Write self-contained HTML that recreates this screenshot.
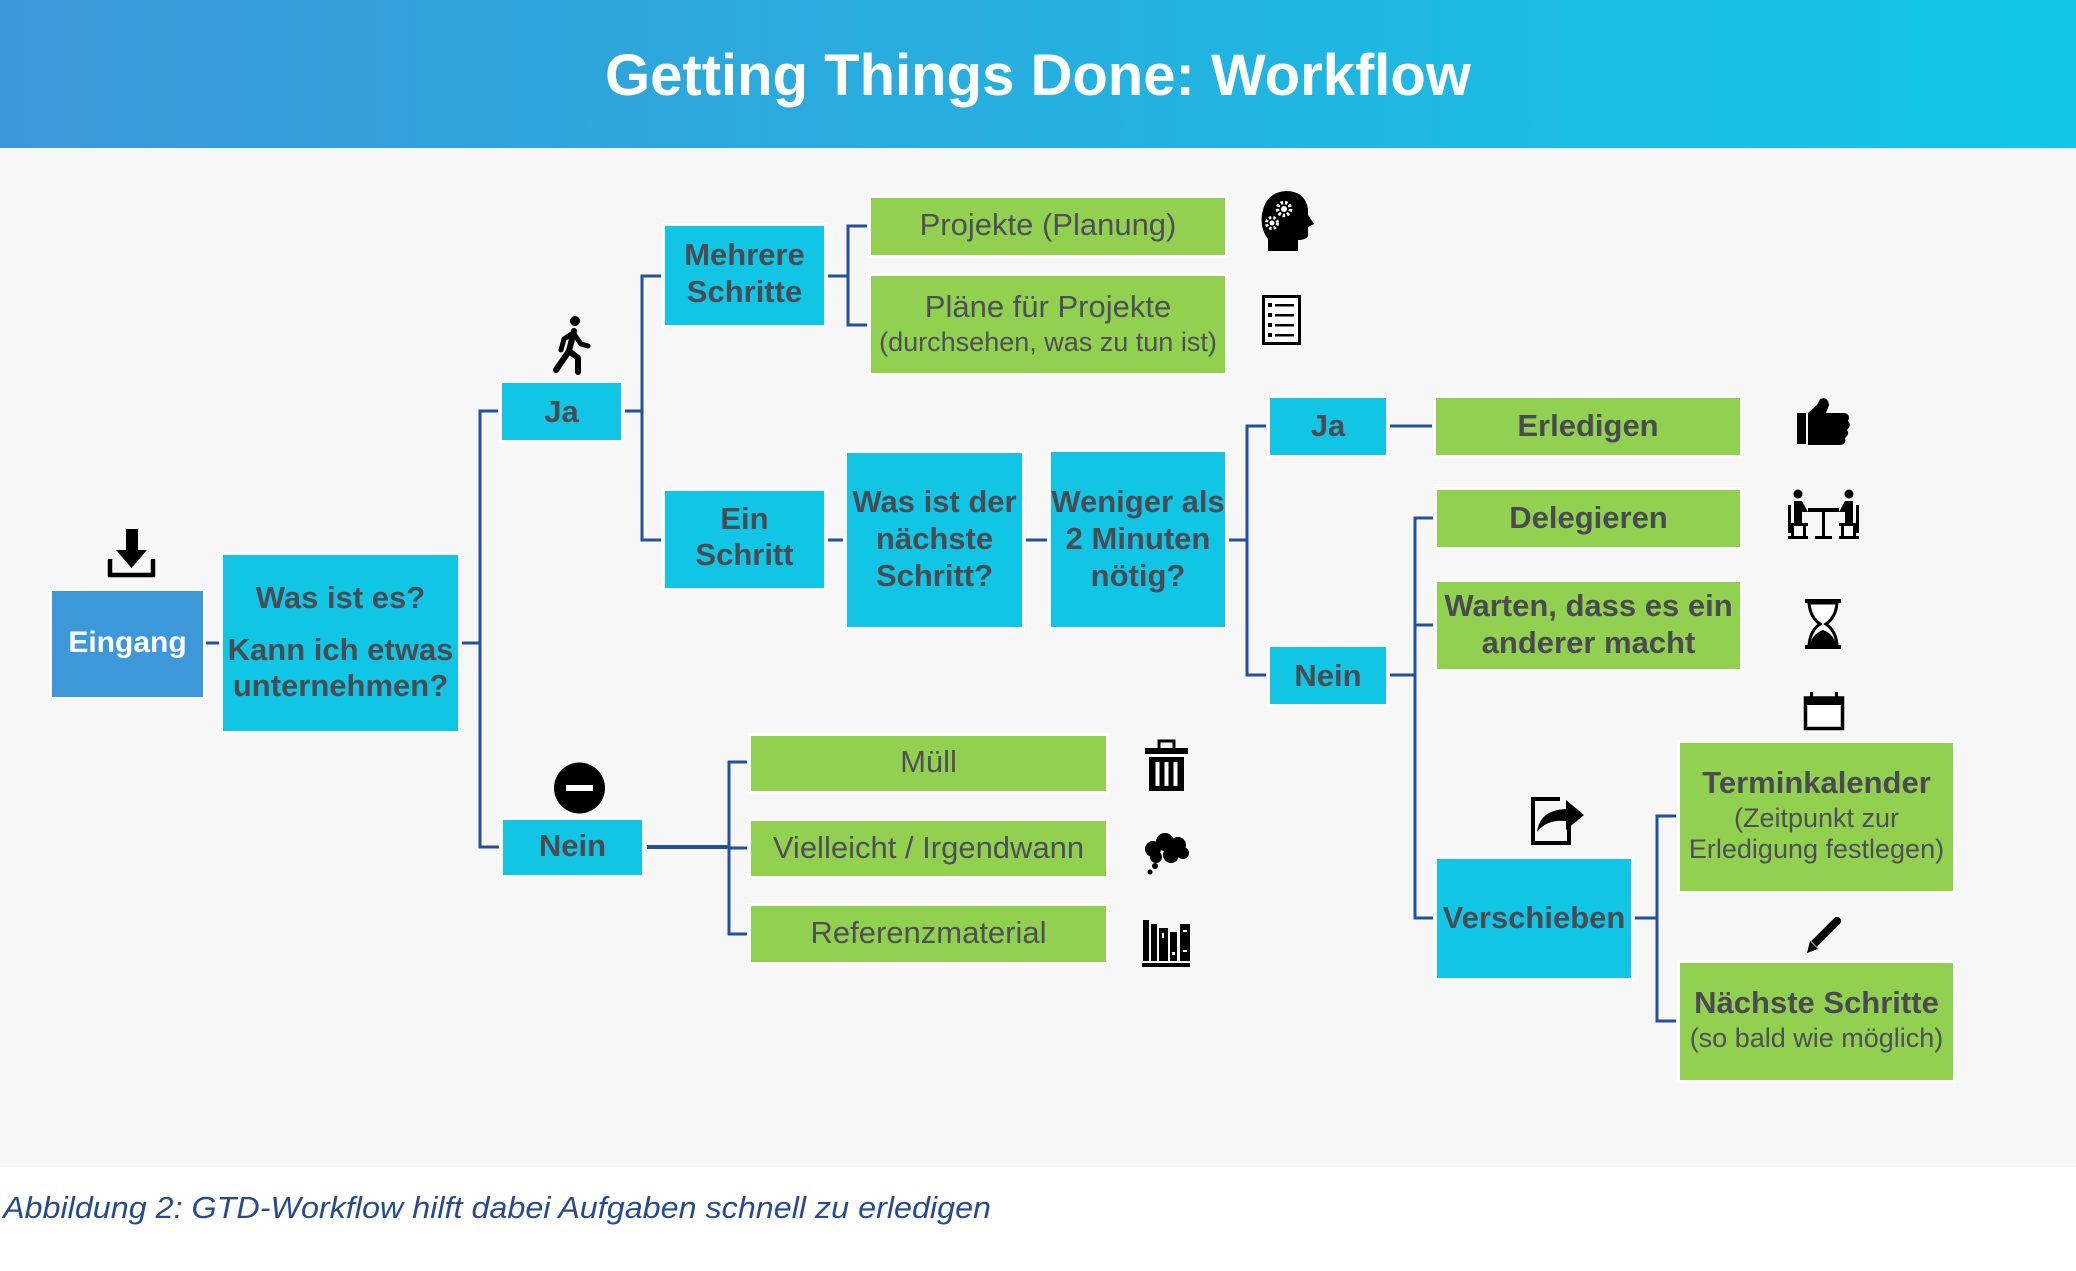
<!DOCTYPE html>
<html><head><meta charset="utf-8"><style>
html,body{margin:0;padding:0;background:#fff;}
svg{display:block;}
text{font-family:"Liberation Sans",Arial,sans-serif;}
.b{font-weight:bold;font-size:31px;fill:#4a4a52;text-anchor:middle;}
.r{font-size:31px;fill:#4f4f57;text-anchor:middle;}
.s{font-size:27px;fill:#4f4f57;text-anchor:middle;}
.ln{stroke:#22509b;stroke-width:3;fill:none;}
</style></head><body>
<svg width="2076" height="1271" viewBox="0 0 2076 1271" xmlns="http://www.w3.org/2000/svg">
<defs>
<linearGradient id="hg" x1="0" y1="0" x2="1" y2="0">
<stop offset="0" stop-color="#3b98d8"/>
<stop offset="1" stop-color="#10c7e6"/>
</linearGradient>
</defs>
<rect x="0" y="0" width="2076" height="1271" fill="#fff"/>
<rect x="0" y="0" width="2076" height="148" fill="url(#hg)"/>
<rect x="0" y="148" width="2076" height="1019" fill="#f7f7f7"/>
<text x="1038" y="95" text-anchor="middle" font-weight="bold" font-size="58" fill="#fff" textLength="866" lengthAdjust="spacingAndGlyphs">Getting Things Done: Workflow</text>

<!-- connectors -->
<g class="ln">
<path d="M206 643 H219"/>
<path d="M462 643 H480 M498 411 H480 V847 H499"/>
<path d="M625 411 H642 M661 276 H642 V540 H661"/>
<path d="M828 276 H848 M867 226 H848 V325 H867"/>
<path d="M828 540 H843"/>
<path d="M1026 540 H1047"/>
<path d="M1229 540 H1247 M1266 426 H1247 V675 H1266"/>
<path d="M1390 426 H1432"/>
<path d="M1390 675 H1415 M1433 518 H1415 V918 H1433 M1415 625 H1433"/>
<path d="M1635 918 H1657 M1676 816 H1657 V1021 H1676"/>
<path d="M647 847 H729" style="stroke-width:4"/>
<path d="M747 762 H729 V934 H747 M729 848 H747"/>
</g>

<!-- boxes: white halo + fill -->
<g fill="#fff">
<rect x="49" y="588" width="157" height="112"/>
<rect x="220" y="552" width="241" height="182"/>
<rect x="499" y="380" width="125" height="63"/>
<rect x="500" y="817" width="145" height="61"/>
<rect x="662" y="223" width="165" height="105"/>
<rect x="662" y="488" width="165" height="103"/>
<rect x="844" y="450" width="181" height="180"/>
<rect x="1048" y="449" width="180" height="181"/>
<rect x="868" y="195" width="360" height="63"/>
<rect x="868" y="273" width="360" height="103"/>
<rect x="1267" y="395" width="122" height="63"/>
<rect x="1267" y="644" width="122" height="63"/>
<rect x="1433" y="395" width="310" height="63"/>
<rect x="1434" y="487" width="309" height="63"/>
<rect x="1434" y="579" width="309" height="93"/>
<rect x="1434" y="856" width="200" height="125"/>
<rect x="1677" y="740" width="279" height="154"/>
<rect x="1677" y="960" width="279" height="123"/>
<rect x="748" y="733" width="361" height="61"/>
<rect x="748" y="818" width="361" height="61"/>
<rect x="748" y="903" width="361" height="62"/>
</g>
<rect x="52" y="591" width="151" height="106" fill="#3c98d8"/>
<g fill="#11c6e4">
<rect x="223" y="555" width="235" height="176"/>
<rect x="502" y="383" width="119" height="57"/>
<rect x="503" y="820" width="139" height="55"/>
<rect x="665" y="226" width="159" height="99"/>
<rect x="665" y="491" width="159" height="97"/>
<rect x="847" y="453" width="175" height="174"/>
<rect x="1051" y="452" width="174" height="175"/>
<rect x="1270" y="398" width="116" height="57"/>
<rect x="1270" y="647" width="116" height="57"/>
<rect x="1437" y="859" width="194" height="119"/>
</g>
<g fill="#92d050">
<rect x="871" y="198" width="354" height="57"/>
<rect x="871" y="276" width="354" height="97"/>
<rect x="1436" y="398" width="304" height="57"/>
<rect x="1437" y="490" width="303" height="57"/>
<rect x="1437" y="582" width="303" height="87"/>
<rect x="1680" y="743" width="273" height="148"/>
<rect x="1680" y="963" width="273" height="117"/>
<rect x="751" y="736" width="355" height="55"/>
<rect x="751" y="821" width="355" height="55"/>
<rect x="751" y="906" width="355" height="56"/>
</g>

<!-- texts -->
<text x="127.5" y="652" text-anchor="middle" font-weight="bold" font-size="30" fill="#fff">Eingang</text>
<text class="b" x="340.5" y="608">Was ist es?</text>
<text class="b" x="340.5" y="660">Kann ich etwas</text>
<text class="b" x="340.5" y="696">unternehmen?</text>
<text class="b" x="561.5" y="422">Ja</text>
<text class="b" x="572.5" y="856">Nein</text>
<text class="b" x="744.5" y="265">Mehrere</text>
<text class="b" x="744.5" y="302">Schritte</text>
<text class="b" x="744.5" y="529">Ein</text>
<text class="b" x="744.5" y="565">Schritt</text>
<text class="b" x="934.5" y="512">Was ist der</text>
<text class="b" x="934.5" y="549">nächste</text>
<text class="b" x="934.5" y="586">Schritt?</text>
<text class="b" x="1138" y="512">Weniger als</text>
<text class="b" x="1138" y="549">2 Minuten</text>
<text class="b" x="1138" y="586">nötig?</text>
<text class="r" x="1048" y="235">Projekte (Planung)</text>
<text class="r" x="1048" y="317">Pläne für Projekte</text>
<text class="s" x="1048" y="351">(durchsehen, was zu tun ist)</text>
<text class="b" x="1328" y="436">Ja</text>
<text class="b" x="1328" y="686">Nein</text>
<text class="b" x="1588" y="436">Erledigen</text>
<text class="b" x="1588.5" y="528">Delegieren</text>
<text class="b" x="1588.5" y="616">Warten, dass es ein</text>
<text class="b" x="1588.5" y="653">anderer macht</text>
<text class="b" x="1534" y="928">Verschieben</text>
<text class="b" x="1816.5" y="793">Terminkalender</text>
<text class="s" x="1816.5" y="827">(Zeitpunkt zur</text>
<text class="s" x="1816.5" y="858">Erledigung festlegen)</text>
<text class="b" x="1816.5" y="1013">Nächste Schritte</text>
<text class="s" x="1816.5" y="1047">(so bald wie möglich)</text>
<text class="r" x="928.5" y="772">Müll</text>
<text class="r" x="928.5" y="858">Vielleicht / Irgendwann</text>
<text class="r" x="928.5" y="943">Referenzmaterial</text>

<!-- icons -->
<!-- download -->
<g fill="#000">
<rect x="126" y="529" width="12" height="22"/>
<polygon points="116,550 147,550 131.5,568"/>
<path d="M110 559 V575 H153 V559" fill="none" stroke="#000" stroke-width="4.5"/>
</g>
<!-- walking -->
<g stroke="#000" stroke-width="6" stroke-linecap="round" stroke-linejoin="round" fill="none">
<circle cx="575" cy="321" r="5" fill="#000" stroke="none"/>
<path d="M574 331 L569 351"/>
<path d="M569 351 L556 370"/>
<path d="M569 351 L578 358 L578 372"/>
<path d="M573 333 L564 339 L561 350" stroke-width="5"/>
<path d="M574 334 L581 344 L588 346" stroke-width="5"/>
</g>
<!-- head with gears -->
<g>
<path d="M1268 251 V239 Q1260 229 1262 214 Q1266 192 1286 191 Q1305 191 1308 209 L1308 215 L1314 224 L1308 227 L1308 236 Q1306 240 1298 240 V251 Z" fill="#000"/>
<circle cx="1284" cy="209" r="6.5" fill="none" stroke="#fff" stroke-width="3.5" stroke-dasharray="2.5 2"/>
<circle cx="1284" cy="209" r="3" fill="#fff"/>
<circle cx="1272" cy="223" r="5.5" fill="none" stroke="#fff" stroke-width="3" stroke-dasharray="2.5 2"/>
<circle cx="1272" cy="223" r="2.5" fill="#fff"/>
</g>
<!-- list -->
<g>
<rect x="1263.5" y="296.5" width="36" height="47" fill="#fff" stroke="#000" stroke-width="3"/>
<g fill="#000">
<rect x="1268" y="303" width="4" height="4"/><rect x="1275" y="304" width="19" height="2.5"/>
<rect x="1268" y="313" width="4" height="4"/><rect x="1275" y="314" width="19" height="2.5"/>
<rect x="1268" y="323" width="4" height="4"/><rect x="1275" y="324" width="19" height="2.5"/>
<rect x="1268" y="333" width="4" height="4"/><rect x="1275" y="334" width="19" height="2.5"/>
</g>
</g>
<!-- thumbs up -->
<g fill="#000">
<rect x="1797" y="413" width="9" height="31"/>
<path d="M1808 413 L1817 405 L1820 399 Q1828 396 1829 405 L1826 413 L1845 413 Q1851 415 1848 421 Q1852 425 1847 430 Q1850 434 1845 438 Q1847 444 1840 445 L1808 445 Z"/>
</g>
<!-- delegate (two people at table) -->
<g fill="#000">
<circle cx="1798" cy="494" r="4.5"/>
<circle cx="1849" cy="494" r="4.5"/>
<rect x="1788" y="505" width="3" height="28"/>
<rect x="1856" y="505" width="3" height="28"/>
<path d="M1794 501 H1802 L1808 512 H1802 V523 H1794 Z"/>
<path d="M1853 501 H1845 L1839 512 H1845 V523 H1853 Z"/>
<rect x="1788" y="523" width="20" height="3"/>
<rect x="1839" y="523" width="20" height="3"/>
<rect x="1791" y="526" width="3" height="11"/><rect x="1803" y="526" width="3" height="11"/>
<rect x="1841" y="526" width="3" height="11"/><rect x="1853" y="526" width="3" height="11"/>
<rect x="1788" y="536" width="20" height="3"/><rect x="1839" y="536" width="20" height="3"/>
<rect x="1808" y="508" width="31" height="4"/>
<rect x="1822" y="512" width="3" height="26"/>
<rect x="1815" y="536" width="17" height="3"/>
</g>
<!-- hourglass -->
<g>
<rect x="1805" y="599" width="36" height="4" fill="#000"/>
<rect x="1805" y="645" width="36" height="4" fill="#000"/>
<path d="M1809 603 L1837 603 Q1836 617 1826 624 Q1836 631 1837 645 L1809 645 Q1810 631 1820 624 Q1810 617 1809 603 Z" fill="#fff" stroke="#000" stroke-width="3"/>
<path d="M1810 645 Q1812 634 1823 630 Q1834 634 1836 645 Z" fill="#000"/>
</g>
<!-- calendar -->
<g>
<rect x="1805.5" y="698" width="37" height="30.5" fill="#fff" stroke="#000" stroke-width="3.5"/>
<rect x="1805" y="697" width="38" height="8" fill="#000"/>
<rect x="1810" y="692" width="3" height="8" fill="#000"/>
<rect x="1835" y="692" width="3" height="8" fill="#000"/>
</g>
<!-- share -->
<g>
<path d="M1560 799 H1533 V843 H1569 V826" fill="none" stroke="#000" stroke-width="4"/>
<path d="M1537 832 Q1540 810 1566 809 V800 L1584 815 L1566 830 V821 Q1547 819 1537 832 Z" fill="#000"/>
</g>
<!-- pencil -->
<g>
<path d="M1814 944 L1834 924" stroke="#000" stroke-width="8"/>
<path d="M1834 924 L1837 921" stroke="#000" stroke-width="8" stroke-linecap="round"/>
<polygon points="1807,953 1810,941 1818,949" fill="#000"/>
</g>
<!-- no entry -->
<circle cx="579.5" cy="788" r="25.5" fill="#000"/>
<rect x="566" y="785" width="27" height="6" fill="#fff"/>
<!-- trash -->
<g fill="#000">
<path d="M1159 748 V741 H1174 V748" fill="none" stroke="#000" stroke-width="3"/>
<rect x="1145" y="748" width="43" height="6"/>
<rect x="1149" y="757" width="35" height="34"/>
<rect x="1155.5" y="762" width="4" height="24" fill="#fff"/>
<rect x="1164.5" y="762" width="4" height="24" fill="#fff"/>
<rect x="1173.5" y="762" width="4" height="24" fill="#fff"/>
</g>
<!-- cloud -->
<g fill="#000">
<circle cx="1153" cy="849" r="8"/>
<circle cx="1165" cy="842" r="9"/>
<circle cx="1178" cy="845" r="8"/>
<circle cx="1183" cy="853" r="6"/>
<circle cx="1171" cy="855" r="8"/>
<circle cx="1156" cy="857" r="6"/>
<circle cx="1155" cy="866" r="3"/>
<circle cx="1150" cy="872" r="2.5"/>
</g>
<!-- books -->
<g fill="#000">
<rect x="1143" y="920" width="6" height="41"/>
<rect x="1151" y="924" width="6" height="37"/>
<rect x="1159" y="928" width="9" height="33"/>
<rect x="1170" y="932" width="7" height="29"/>
<rect x="1180" y="924" width="10" height="37"/>
<rect x="1142" y="963" width="48" height="4"/>
<rect x="1162" y="933" width="2" height="5" fill="#fff"/>
<rect x="1183" y="930" width="4" height="2" fill="#fff"/>
<rect x="1183" y="950" width="4" height="2" fill="#fff"/>
<rect x="1172" y="952" width="3" height="3" fill="#fff"/>
</g>

<text x="3" y="1218" font-style="italic" font-size="31" fill="#274b8b" textLength="988" lengthAdjust="spacingAndGlyphs">Abbildung 2: GTD-Workflow hilft dabei Aufgaben schnell zu erledigen</text>
</svg>
</body></html>
